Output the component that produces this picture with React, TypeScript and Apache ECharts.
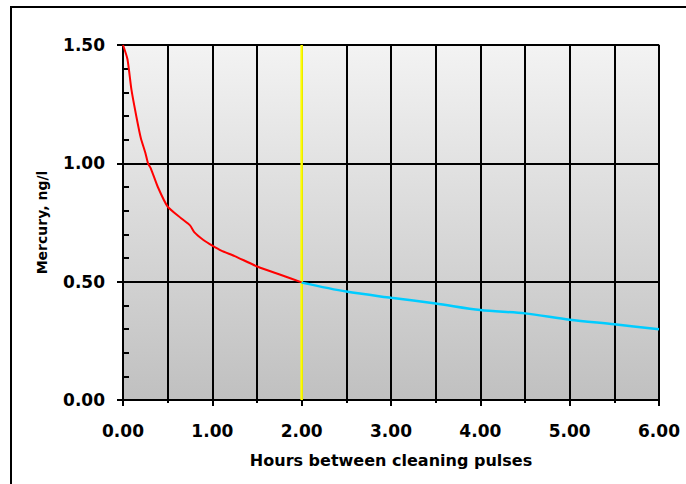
import React, { useEffect, useRef } from "react";
import * as echarts from "echarts";

const redX = [0, 0.05, 0.095, 0.15, 0.2, 0.25, 0.28, 0.31, 0.39, 0.5, 0.65, 0.75, 0.8, 0.9, 1.0, 1.1, 1.25, 1.51, 1.77, 2.0];
const redY = [1.5, 1.44, 1.31, 1.197, 1.106, 1.045, 1.0, 0.98, 0.9, 0.817, 0.768, 0.738, 0.708, 0.676, 0.652, 0.631, 0.608, 0.563, 0.528, 0.497];
const cyanX = [2.0, 2.5, 3.0, 3.5, 4.0, 4.5, 5.0, 5.5, 6.0];
const cyanY = [0.496, 0.458, 0.432, 0.408, 0.38, 0.366, 0.339, 0.32, 0.299];
const markerX = 2.0;
const xTicks = [0, 1, 2, 3, 4, 5, 6];
const yTicks = [0, 0.5, 1.0, 1.5];

const FONT = "'DejaVu Sans', 'Liberation Sans', Arial, sans-serif";

export default function App() {
  const ref = useRef<HTMLDivElement>(null);
  useEffect(() => {
    if (!ref.current) return;
    const chart = echarts.init(ref.current, null, { renderer: "svg" });
    const pair = (xs: number[], ys: number[]) => xs.map((x, i) => [x, ys[i]]);
    chart.setOption({
      animation: false,
      backgroundColor: "#ffffff",
      textStyle: { fontFamily: FONT },
      graphic: [
        {
          type: "rect",
          shape: { x: 11, y: 7, width: 720, height: 520 },
          style: { fill: "none", stroke: "#000", lineWidth: 2 },
          z: 100,
        },
      ],
      grid: {
        left: 123,
        right: 27,
        top: 45,
        bottom: 84,
        show: true,
        borderColor: "#999999",
        borderWidth: 1.5,
        backgroundColor: new echarts.graphic.LinearGradient(0, 0, 0, 1, [
          { offset: 0, color: "#f3f3f3" },
          { offset: 1, color: "#c0c0c0" },
        ]),
      },
      xAxis: [
        {
          type: "value",
          min: xTicks[0],
          max: xTicks[xTicks.length - 1],
          interval: 1,
          name: "Hours between cleaning pulses",
          nameLocation: "middle",
          nameGap: 52,
          nameTextStyle: { fontFamily: FONT, fontWeight: "bold", fontSize: 16, color: "#000" },
          axisLine: { show: true, onZero: false, lineStyle: { color: "#000", width: 2 } },
          axisTick: { show: true, length: 6, lineStyle: { color: "#000", width: 2 } },
          minorTick: { show: true, splitNumber: 2, length: 3, lineStyle: { color: "#000", width: 2 } },
          axisLabel: {
            fontFamily: FONT,
            fontWeight: "bold",
            fontSize: 17,
            color: "#000",
            margin: 22,
            formatter: (v: number) => v.toFixed(2),
          },
          splitLine: { show: true, lineStyle: { color: "#000", width: 2 } },
          minorSplitLine: { show: true, lineStyle: { color: "#000", width: 2 } },
        },
      ],
      yAxis: [
        {
          type: "value",
          min: yTicks[0],
          max: yTicks[yTicks.length - 1],
          interval: 0.5,
          name: "Mercury, ng/l",
          nameLocation: "middle",
          nameGap: 74,
          nameTextStyle: { fontFamily: FONT, fontWeight: "bold", fontSize: 14, color: "#000" },
          axisLine: { show: true, onZero: false, lineStyle: { color: "#000", width: 2 } },
          axisTick: { show: true, length: 6, lineStyle: { color: "#000", width: 2 } },
          axisLabel: {
            fontFamily: FONT,
            fontWeight: "bold",
            fontSize: 17,
            color: "#000",
            margin: 18,
            formatter: (v: number) => v.toFixed(2),
          },
          splitLine: { show: true, lineStyle: { color: "#000", width: 2 } },
        },
        {
          type: "value",
          position: "left",
          min: yTicks[0],
          max: yTicks[yTicks.length - 1],
          interval: 0.1,
          axisLine: { show: false },
          axisTick: { show: true, inside: true, length: 6, lineStyle: { color: "#000", width: 2 } },
          axisLabel: { show: false },
          splitLine: { show: false },
        },
      ],
      series: [
        {
          type: "line",
          data: [
            [markerX, yTicks[0]],
            [markerX, yTicks[yTicks.length - 1]],
          ],
          showSymbol: false,
          lineStyle: { color: "#ffff00", width: 2.5 },
          z: 3,
        },
        {
          type: "line",
          data: pair(redX, redY),
          showSymbol: false,
          smooth: 0.2,
          lineStyle: { color: "#ff0000", width: 2 },
          z: 4,
        },
        {
          type: "line",
          data: pair(cyanX, cyanY),
          showSymbol: false,
          smooth: 0.3,
          lineStyle: { color: "#00ccff", width: 2.5 },
          z: 4,
        },
      ],
    });
    return () => chart.dispose();
  }, []);
  return (
    <div
      ref={ref}
      style={{ position: "fixed", left: 0, top: 0, width: 686, height: 484 }}
    />
  );
}
